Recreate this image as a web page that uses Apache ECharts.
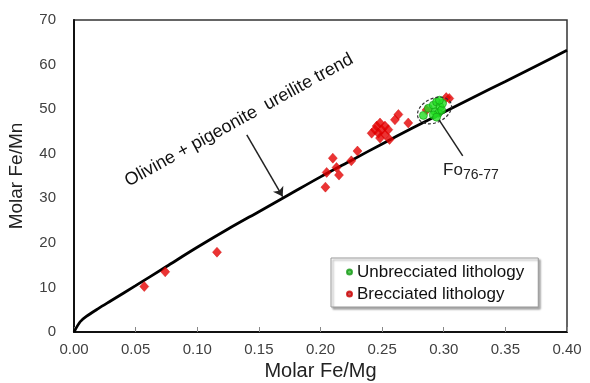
<!DOCTYPE html>
<html>
<head>
<meta charset="utf-8">
<script src="https://cdn.jsdelivr.net/npm/echarts@6/dist/echarts.min.js"></script>
<style>
html,body{margin:0;padding:0;background:#fff;}
#c{width:590px;height:383px;}
</style>
</head>
<body>
<div id="c"></div>
<script>
// ---- data ----
const xTicks = [0, 0.05, 0.10, 0.15, 0.20, 0.25, 0.30, 0.35, 0.40];
const yTicks = [0, 10, 20, 30, 40, 50, 60, 70];

const trendX = [0, 0.005, 0.01, 0.02, 0.03, 0.05, 0.075, 0.1, 0.125, 0.15, 0.175, 0.2, 0.225, 0.25, 0.275, 0.3, 0.325, 0.35, 0.375, 0.4];
const trendY = [0, 2.3, 3.5, 5.3, 7.0, 10.4, 14.7, 19.0, 23.1, 27.0, 30.9, 34.8, 38.5, 42.2, 45.8, 49.3, 52.8, 56.2, 59.7, 63.2];

const brecX = [0.057, 0.074, 0.116, 0.204, 0.205, 0.210, 0.213, 0.215, 0.225, 0.230,
  0.2415, 0.2442, 0.2456, 0.2470, 0.2483, 0.2483, 0.2497, 0.2523, 0.2523, 0.2550, 0.2560,
  0.2604, 0.2632, 0.2712, 0.2860, 0.3020, 0.3045];
const brecY = [10.2, 13.5, 17.9, 32.5, 35.8, 39.0, 36.9, 35.2, 38.4, 40.6,
  44.6, 45.4, 46.2, 44.6, 46.9, 43.5, 45.4, 46.2, 44.3, 45.4, 43.2,
  47.6, 48.8, 46.9, 49.8, 52.6, 52.4];

const unbrecX = [0.2835, 0.2875, 0.2915, 0.2942, 0.2970, 0.2930, 0.2956, 0.2915, 0.2983, 0.2942, 0.2990, 0.2965];
const unbrecY = [48.6, 50.2, 50.9, 51.6, 50.5, 49.4, 49.1, 48.7, 49.8, 48.2, 51.3, 52.0];

const seriesNames = ['Unbrecciated lithology', 'Brecciated lithology'];
const trendLabel = 'Olivine + pigeonite  ureilite trend';
const foLabel = 'Fo';
const foSub = '76-77';

// annotation anchors (data coordinates)
const trendLabelAt = [0.1339, 47.5];
const arrowFrom = [0.1402, 44.2], arrowTo = [0.1693, 30.4];
const foLineFrom = [0.2962, 47.6], foLineTo = [0.3154, 39.5];
const foLabelAt = [0.2994, 36.35];
const ellipseAt = [0.2925, 49.7];

const FONT = '"Liberation Sans", Arial, sans-serif';

const zip = (a, b) => a.map((v, i) => [v, b[i]]);

const chart = echarts.init(document.getElementById('c'), null, {renderer: 'canvas'});

const option = {
  animation: false,
  backgroundColor: '#fff',
  textStyle: {fontFamily: FONT},
  grid: {left: 74, right: 23, top: 20, bottom: 51, show: true, borderColor: '#333', borderWidth: 1.5, outerBoundsMode: 'none', containLabel: false},
  xAxis: {
    type: 'value', min: xTicks[0], max: xTicks[xTicks.length - 1], interval: xTicks[1] - xTicks[0],
    name: 'Molar Fe/Mg', nameLocation: 'middle', nameGap: 29,
    nameTextStyle: {fontSize: 20, color: '#222', fontFamily: FONT},
    axisLine: {onZero: false, lineStyle: {color: '#111', width: 2}},
    axisTick: {show: true, inside: true, length: 5, lineStyle: {color: '#888', width: 1}},
    axisLabel: {fontSize: 15, color: '#404040', margin: 10, fontFamily: FONT, formatter: v => v.toFixed(2)},
    splitLine: {show: false}
  },
  yAxis: {
    type: 'value', min: yTicks[0], max: yTicks[yTicks.length - 1], interval: yTicks[1] - yTicks[0],
    name: 'Molar Fe/Mn', nameLocation: 'middle', nameGap: 48,
    nameTextStyle: {fontSize: 19, color: '#222', fontFamily: FONT},
    axisLine: {onZero: false, lineStyle: {color: '#111', width: 2}},
    axisTick: {show: false},
    axisLabel: {fontSize: 15, color: '#404040', margin: 18, fontFamily: FONT},
    splitLine: {show: false}
  },
  legend: {
    orient: 'vertical', left: 331, top: 258,
    padding: [4, 14, 3, 15], itemGap: 2, itemWidth: 5, itemHeight: 5,
    backgroundColor: '#fff', borderColor: '#999', borderWidth: 1,
    shadowColor: 'rgba(0,0,0,0.35)', shadowBlur: 2, shadowOffsetX: 2, shadowOffsetY: 2,
    textStyle: {fontSize: 17, color: '#111', lineHeight: 20, fontFamily: FONT},
    data: [
      {name: seriesNames[0], icon: 'circle', itemStyle: {color: '#33bb33'}},
      {name: seriesNames[1], icon: 'circle', itemStyle: {color: '#c0282e'}}
    ]
  },
  series: [
    {
      type: 'line', name: 'trend', data: zip(trendX, trendY), smooth: 0.3, showSymbol: false,
      lineStyle: {color: '#000', width: 2.8}, z: 2, silent: true,
      markLine: {
        silent: true, animation: false,
        symbol: ['none', 'arrow'], symbolSize: 9,
        lineStyle: {color: '#222', width: 1.5, type: 'solid'},
        label: {show: false},
        data: [
          [{coord: arrowFrom}, {coord: arrowTo}],
          [{coord: foLineFrom, symbol: 'none'}, {coord: foLineTo, symbol: 'none'}]
        ]
      }
    },
    {
      type: 'scatter', name: seriesNames[1], data: zip(brecX, brecY),
      symbol: 'diamond', symbolSize: [9, 10],
      itemStyle: {color: '#e60000', borderColor: '#cc0000', borderWidth: 0.5}, z: 3
    },
    {
      type: 'scatter', name: seriesNames[0], data: zip(unbrecX, unbrecY),
      symbol: 'circle', symbolSize: 8,
      itemStyle: {color: '#22dd22', borderColor: '#159915', borderWidth: 0.8}, z: 4
    }
  ]
};
chart.setOption(option);

function place() {
  const p = c => chart.convertToPixel({gridIndex: 0}, c);
  const t = p(trendLabelAt), f = p(foLabelAt), e = p(ellipseAt);
  chart.setOption({
    graphic: [
      {type: 'text', x: t[0], y: t[1], rotation: 0.503, z: 10,
        style: {text: trendLabel, font: '18px ' + FONT, fill: '#111', align: 'center', verticalAlign: 'middle'}},
      {type: 'text', x: f[0], y: f[1], z: 10,
        style: {text: foLabel, font: '17px ' + FONT, fill: '#222', align: 'left', verticalAlign: 'middle'}},
      {type: 'text', x: f[0] + 20, y: f[1] + 5, z: 10,
        style: {text: foSub, font: '14px ' + FONT, fill: '#222', align: 'left', verticalAlign: 'middle'}},
      {type: 'ellipse', x: e[0], y: e[1], rotation: 0.45, z: 100, zlevel: 0,
        shape: {cx: 0, cy: 0, rx: 18, ry: 12},
        style: {fill: 'none', stroke: '#333', lineWidth: 1.2, lineDash: [3, 2]}}
    ]
  });
}
place();
</script>
</body>
</html>
